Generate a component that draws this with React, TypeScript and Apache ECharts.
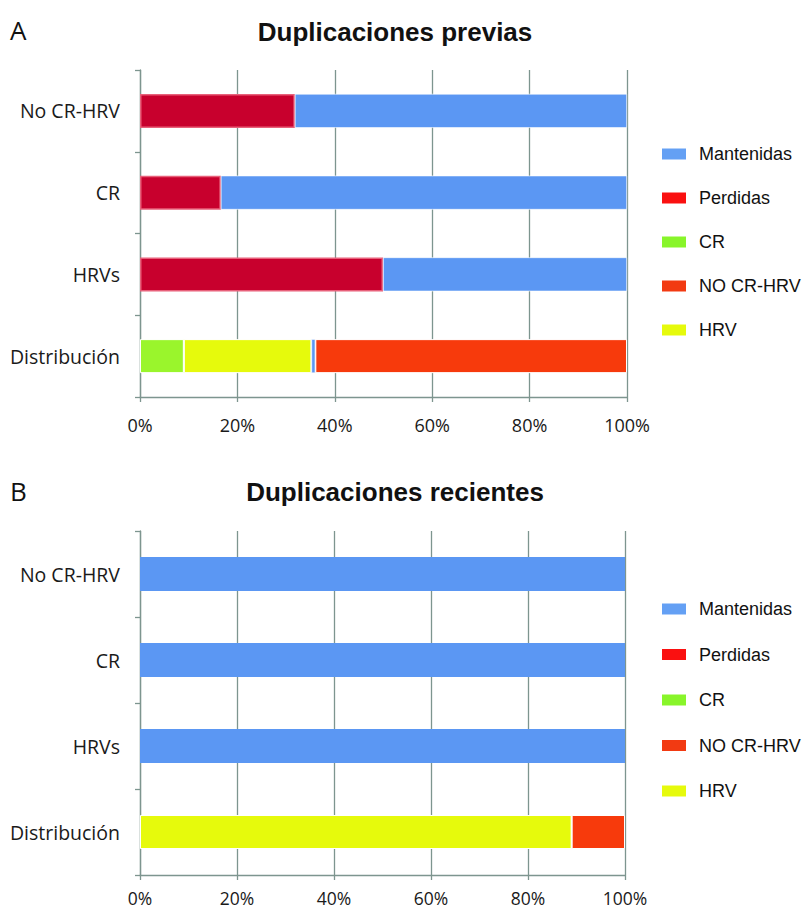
import React, { useEffect, useRef } from "react";
import * as echarts from "echarts";

const categories = ["No CR-HRV", "CR", "HRVs", "Distribución"];

// Panel A: Duplicaciones previas (percent)
const perdidasA = [31.8, 16.6, 49.9, null];
const crA = [null, null, null, 9.0];
const hrvA = [null, null, null, 26.2];
const mantenidasA = [68.2, 83.4, 50.1, 0.8];
const noCrHrvA = [null, null, null, 64.0];

// Panel B: Duplicaciones recientes (percent)
const mantenidasB = [100, 100, 100, null];
const hrvB = [null, null, null, 89];
const noCrHrvB = [null, null, null, 11];

const legendNames = ["Mantenidas", "Perdidas", "CR", "NO CR-HRV", "HRV"];

const C = {
  blue: "#5b97f3",
  crimson: "#c8002d",
  crimsonBorder: "#e8607a",
  green: "#9af52c",
  yellow: "#e6fa0c",
  orange: "#f73a0c",
  grid: "#7d958f",
};

const legendColors: Record<string, string> = {
  Mantenidas: "#64a0f4",
  Perdidas: "#fa1010",
  CR: "#88f52a",
  "NO CR-HRV": "#f23a12",
  HRV: "#e6fa0c",
};

function xAxisFor(idx: number, margin: number, fontSize: number) {
  return {
    type: "value",
    gridIndex: idx,
    min: 0,
    max: 100,
    interval: 20,
    axisLine: { show: true, lineStyle: { color: C.grid, width: 1.3 } },
    axisTick: { show: true, length: 5, lineStyle: { color: C.grid, width: 1.3 } },
    splitLine: { show: true, lineStyle: { color: C.grid, width: 1.3 } },
    axisLabel: {
      formatter: "{value}%",
      fontFamily: "Open Sans",
      fontSize,
      lineHeight: 14,
      color: "#1a1a1a",
      margin,
    },
  };
}

function yAxisFor(idx: number) {
  return {
    type: "category",
    gridIndex: idx,
    inverse: true,
    data: categories,
    axisLine: { show: true, lineStyle: { color: C.grid, width: 1.3 } },
    axisTick: { show: true, length: 5, lineStyle: { color: C.grid, width: 1.3 } },
    axisLabel: {
      fontFamily: "Open Sans",
      fontSize: 19.5,
      color: "#1a1a1a",
      margin: 20,
    },
  };
}

function legendFor(top: number, gap: number) {
  return {
    orient: "vertical",
    left: 657,
    top,
    icon: "rect",
    itemWidth: 24,
    itemHeight: 11,
    itemGap: gap,
    textStyle: {
      fontFamily: "Liberation Sans",
      fontSize: 18,
      lineHeight: 20,
      color: "#111",
      padding: [0, 0, 0, 8],
    },
    data: legendNames.map((n) => ({ name: n, itemStyle: { color: legendColors[n], borderWidth: 0 } })),
  };
}

export default function App() {
  const ref = useRef<HTMLDivElement>(null);

  useEffect(() => {
    document.body.style.margin = "0";
    if (!ref.current) return;
    const chart = echarts.init(ref.current, undefined, { renderer: "svg" });
    const whiteBorder = { borderColor: "#ffffff", borderWidth: 1 };
    const option: any = {
      animation: false,
      backgroundColor: "#ffffff",
      grid: [
        { left: 140, top: 70, width: 487, height: 327 },
        { left: 140, top: 531, width: 485, height: 344 },
      ],
      xAxis: [xAxisFor(0, 21, 18), xAxisFor(1, 16, 17.5)],
      yAxis: [yAxisFor(0), yAxisFor(1)],
      legend: [legendFor(139, 24), legendFor(594, 25.5)],
      graphic: [
        { type: "text", x: 10, y: 17, style: { text: "A", fontFamily: "Open Sans", fontSize: 26, fill: "#111" } },
        { type: "text", x: 10, y: 478, style: { text: "B", fontFamily: "Open Sans", fontSize: 26, fill: "#111" } },
        {
          type: "text", x: 395, y: 32,
          style: { text: "Duplicaciones previas", fontFamily: "Liberation Sans", fontWeight: "bold", fontSize: 26, fill: "#111", textAlign: "center", textVerticalAlign: "middle" },
        },
        {
          type: "text", x: 395, y: 492,
          style: { text: "Duplicaciones recientes", fontFamily: "Liberation Sans", fontWeight: "bold", fontSize: 26, fill: "#111", textAlign: "center", textVerticalAlign: "middle" },
        },
      ],
      series: [
        { name: "Perdidas", type: "bar", stack: "a", xAxisIndex: 0, yAxisIndex: 0, barWidth: 34, data: perdidasA,
          itemStyle: { color: C.crimson, borderColor: C.crimsonBorder, borderWidth: 1.5 } },
        { name: "CR", type: "bar", stack: "a", xAxisIndex: 0, yAxisIndex: 0, barWidth: 34, data: crA,
          itemStyle: { color: C.green, ...whiteBorder } },
        { name: "HRV", type: "bar", stack: "a", xAxisIndex: 0, yAxisIndex: 0, barWidth: 34, data: hrvA,
          itemStyle: { color: C.yellow, ...whiteBorder } },
        { name: "Mantenidas", type: "bar", stack: "a", xAxisIndex: 0, yAxisIndex: 0, barWidth: 34, data: mantenidasA,
          itemStyle: { color: C.blue, borderColor: "#ffffff", borderWidth: 0.6 } },
        { name: "NO CR-HRV", type: "bar", stack: "a", xAxisIndex: 0, yAxisIndex: 0, barWidth: 34, data: noCrHrvA,
          itemStyle: { color: C.orange, ...whiteBorder } },

        { name: "Mantenidas", type: "bar", stack: "b", xAxisIndex: 1, yAxisIndex: 1, barWidth: 34, data: mantenidasB,
          itemStyle: { color: C.blue } },
        { name: "HRV", type: "bar", stack: "b", xAxisIndex: 1, yAxisIndex: 1, barWidth: 34, data: hrvB,
          itemStyle: { color: C.yellow, ...whiteBorder } },
        { name: "NO CR-HRV", type: "bar", stack: "b", xAxisIndex: 1, yAxisIndex: 1, barWidth: 34, data: noCrHrvB,
          itemStyle: { color: C.orange, ...whiteBorder } },
      ],
    };
    chart.setOption(option);
    return () => chart.dispose();
  }, []);

  return <div ref={ref} style={{ width: 804, height: 912 }} />;
}
